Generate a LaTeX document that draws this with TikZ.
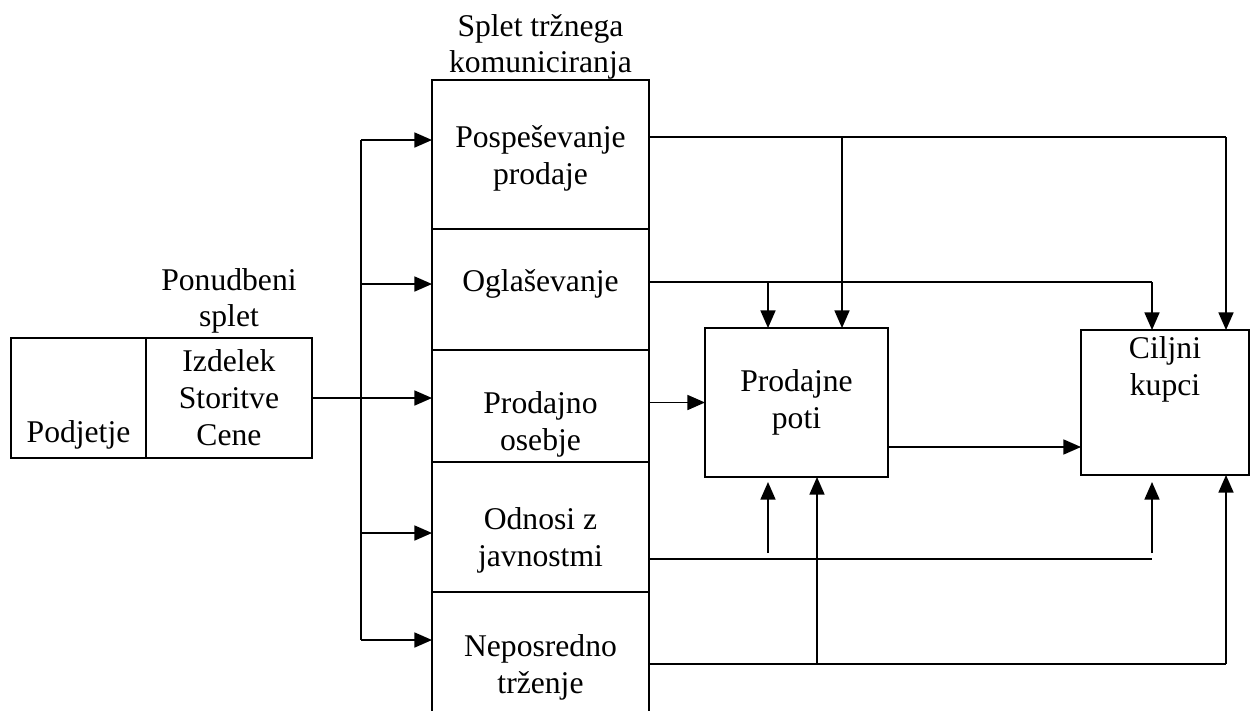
\documentclass[tikz,border=0pt]{standalone}
\usepackage{fontspec}
\setmainfont{Liberation Serif}
\usetikzlibrary{arrows.meta,positioning}

\tikzset{
  box/.style={draw, line width=1.2pt, inner sep=0pt, outer sep=0pt},
  link/.style={line width=1pt},
  arr/.style={link, -{Triangle[length=10pt,width=8.5pt]}},
  txt/.style={align=center, font=\fontsize{18}{21}\selectfont, inner sep=0pt}
}

\begin{document}
\begin{tikzpicture}[x=0.02cm, y=-0.02cm]
\useasboundingbox (0,0) rectangle (1251,711);

% ponudbeni splet
\node[box, minimum width=2.70cm, minimum height=2.40cm] (podjetje) at (78.5,398) {};
\node[box, txt, minimum width=3.32cm, minimum height=2.40cm, right=0pt of podjetje] (ponudba) {Izdelek\\Storitve\\Cene};
\node[txt, anchor=base] (podjetjeT) at (78.5,442) {Podjetje};
\node[txt, above=0.08cm of ponudba] (ponudbaT) {Ponudbeni\\splet};

% splet trznega komuniciranja
\node[box, minimum width=4.34cm, minimum height=2.98cm] (pospes) at (540.5,154.5) {};
\node[box, minimum width=4.34cm, minimum height=2.42cm, below=0pt of pospes] (oglas) {};
\node[box, minimum width=4.34cm, minimum height=2.24cm, below=0pt of oglas] (osebje) {};
\node[box, minimum width=4.34cm, minimum height=2.60cm, below=0pt of osebje] (odnosi) {};
\node[box, draw=none, minimum width=4.34cm, minimum height=2.38cm, below=0pt of odnosi] (neposr) {};
\draw[line width=1.2pt] (neposr.south west) |- (neposr.north east) -- (neposr.south east);
\node[txt, above=0pt of pospes] (splet) {Splet tržnega\\komuniciranja};

\node[txt] (pospesT) at (540.5,158) {Pospeševanje\\prodaje};
\node[txt] (oglasT)  at (540.5,284) {Oglaševanje};
\node[txt] (osebjeT) at (540.5,424) {Prodajno\\osebje};
\node[txt] (odnosiT) at (540.5,540) {Odnosi z\\javnostmi};
\node[txt] (neposrT) at (540.5,667) {Neposredno\\trženje};

% prodajne poti, ciljni kupci
\node[box, txt, minimum width=3.66cm, minimum height=2.98cm] (poti) at (796.5,402.5) {Prodajne\\poti};
\node[box, minimum width=3.36cm, minimum height=2.90cm] (kupci) at (1165,402.5) {};
\node[txt] (kupciT) at (1165,369) {Ciljni\\kupci};

% razvod na levi
\coordinate (tP) at (361,140);
\coordinate (tO) at (361,284);
\coordinate (tJ) at (361,533);
\coordinate (tN) at (361,640);
\draw[link] (tP) -- (tN);
\draw[arr] (tP) -- (tP -| pospes.west);
\draw[arr] (tO) -- (tO -| oglas.west);
\draw[arr] (tJ) -- (tJ -| odnosi.west);
\draw[arr] (tN) -- (tN -| neposr.west);
\draw[arr] (ponudba.east) -- (ponudba.east -| osebje.west);

% povezave na desni
\coordinate (zP) at (1226,137);
\coordinate (bP) at (842,137);
\coordinate (zO) at (1152,282);
\coordinate (bO) at (768,282);
\coordinate (zJ) at (1152,559);
\coordinate (bJ) at (768,559);
\coordinate (zN) at (1226,664);
\coordinate (bN) at (817,664);

\draw[link] (zP -| pospes.east) -- (zP);
\draw[arr] (zP) -- (zP |- kupci.north);
\draw[arr] (bP) -- (bP |- poti.north);

\draw[link] (zO -| oglas.east) -- (zO);
\draw[arr] (zO) -- (zO |- kupci.north);
\draw[arr] (bO) -- (bO |- poti.north);

\draw[arr] (osebje.east |- poti.west) -- (poti.west);
\draw[arr] ([yshift=-0.89cm]poti.east) -- ([yshift=-0.89cm]poti.east -| kupci.west);

\coordinate (jPa) at (768,553);
\coordinate (jPb) at (768,482);
\coordinate (jKa) at (1152,553);
\coordinate (jKb) at (1152,482);
\draw[link] (zJ -| odnosi.east) -- (zJ);
\draw[arr] (jPa) -- (jPb);
\draw[arr] (jKa) -- (jKb);

\draw[link] (zN -| neposr.east) -- (zN);
\draw[arr] (zN) -- (zN |- kupci.south);
\draw[arr] (bN) -- (bN |- poti.south);
\end{tikzpicture}
\end{document}
